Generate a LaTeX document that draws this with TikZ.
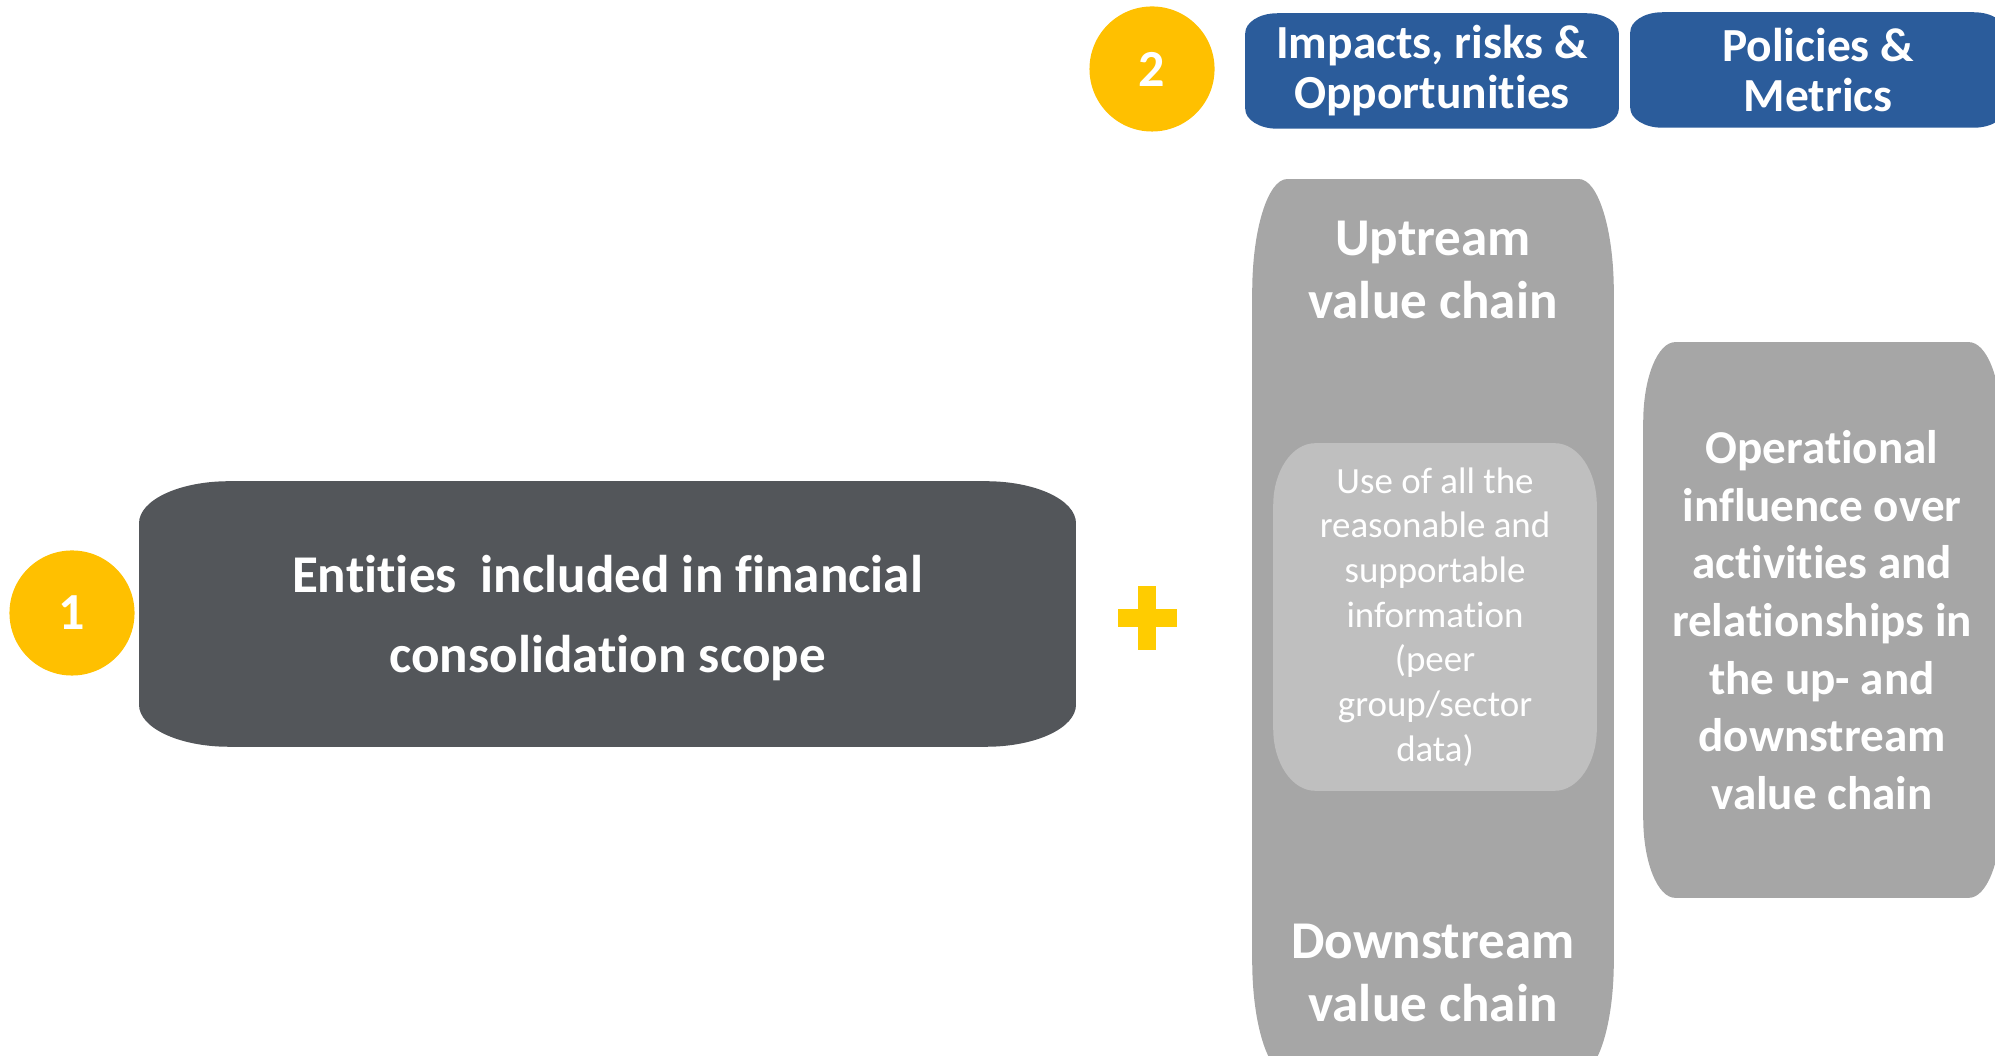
\documentclass[tikz,border=0pt]{standalone}
\usepackage{fontspec}
\setmainfont{Carlito}[Ligatures=NoCommon]
\usetikzlibrary{positioning}
\usetikzlibrary{backgrounds}

\definecolor{dotyellow}{HTML}{FFC000}
\definecolor{plusyellow}{HTML}{FFCC00}
\definecolor{scopegray}{HTML}{53565A}
\definecolor{headblue}{HTML}{2B5C9B}
\definecolor{chaingray}{HTML}{A6A6A6}
\definecolor{infogray}{HTML}{BFBFBF}

% box with elliptical corners, filled behind a named node
\newcommand{\pillfill}[4]{%
	\fill[#2] ([xshift=#3]#1.south west) -- ([xshift=-#3]#1.south east)
		arc[start angle=-90, end angle=0, x radius=#3, y radius=#4]
		-- ([yshift=-#4]#1.north east)
		arc[start angle=0, end angle=90, x radius=#3, y radius=#4]
		-- ([xshift=#3]#1.north west)
		arc[start angle=90, end angle=180, x radius=#3, y radius=#4]
		-- ([yshift=#4]#1.south west)
		arc[start angle=180, end angle=270, x radius=#3, y radius=#4]
		-- cycle;}

\tikzset{
	numdot/.style={circle, fill=dotyellow, text=white, minimum size=1.25cm, inner sep=0pt,
		font=\bfseries\fontsize{14.8}{14.8}\selectfont},
	bigtext/.style={text=white, align=center, inner sep=0pt,
		font=\bfseries\fontsize{15.1}{18.1}\selectfont},
	headtext/.style={text=white, align=center, inner sep=0pt,
		font=\bfseries\fontsize{13.5}{14.2}\selectfont},
	optext/.style={text=white, align=center, inner sep=0pt,
		font=\bfseries\fontsize{13.4}{16.4}\selectfont},
	infotext/.style={text=white, align=center, inner sep=0pt,
		font=\fontsize{10.5}{12.7}\selectfont}
}

\begin{document}
\begin{tikzpicture}[x=0.01cm, y=0.01cm]
	\useasboundingbox (0,0) rectangle (1995,1055);
	\clip (0,0) rectangle (1995,1055);

	% step 1
	\node[numdot] (one) at (72, 442) {1};
	\node[bigtext, minimum width=9.35cm, minimum height=2.64cm,
		font=\bfseries\fontsize{15.1}{22.8}\selectfont] (entities) at (607.5, 437)
		{Entities\ \ included in financial\\consolidation scope};

	\coordinate (plus) at (1147, 437);
	\fill[plusyellow] ([shift={(-29.5,-9)}]plus) rectangle ([shift={(29.5,9)}]plus);
	\fill[plusyellow] ([shift={(-9,-32)}]plus) rectangle ([shift={(9,32)}]plus);

	% step 2
	\node[numdot] (two) at (1152, 986) {2};
	\node[headtext, minimum width=3.72cm, minimum height=1.14cm] (iro) at (1432, 984)
		{Impacts, risks \&\\Opportunities};
	\node[headtext, minimum width=3.74cm, minimum height=1.14cm] (polmet) at (1818, 985)
		{Policies \&\\Metrics};

	\node[minimum width=3.6cm, minimum height=8.93cm, inner sep=0pt] (chain) at (1433, 428.5) {};
	\node[bigtext] (upstream) at (1433, 785) {Uptream\\value chain};
	\node[bigtext] (downstream) at (1433, 82) {Downstream\\value chain};
	\node[infotext, minimum width=3.22cm, minimum height=3.46cm] (info) at (1435, 438)
		{Use of all the\\reasonable and\\supportable\\information\\(peer\\group/sector\\data)};

	\node[optext, minimum width=3.56cm, minimum height=5.54cm] (opinf) at (1822, 435)
		{Operational\\influence over\\activities and\\relationships in\\the up- and\\downstream\\value chain};

	\begin{scope}[on background layer]
		\fill[scopegray] ([xshift=0.9cm, yshift=0.04cm]entities.south west) -- ([xshift=-0.9cm, yshift=0.04cm]entities.south east)
			arc[start angle=-90, end angle=0, x radius=0.9cm, y radius=0.42cm]
			-- ([yshift=-0.42cm+0.04cm]entities.north east)
			arc[start angle=0, end angle=90, x radius=0.9cm, y radius=0.42cm]
			-- ([xshift=0.9cm, yshift=0.04cm]entities.north west)
			arc[start angle=90, end angle=180, x radius=0.9cm, y radius=0.42cm]
			-- ([yshift=0.46cm]entities.south west)
			arc[start angle=180, end angle=270, x radius=0.9cm, y radius=0.42cm]
			-- cycle;
		\pillfill{iro}{headblue}{0.32cm}{0.2cm}
		\pillfill{polmet}{headblue}{0.32cm}{0.2cm}
		\pillfill{chain}{chaingray}{0.35cm}{1.13cm}
		\pillfill{info}{infogray}{0.42cm}{0.62cm}
		\pillfill{opinf}{chaingray}{0.32cm}{0.8cm}
	\end{scope}
\end{tikzpicture}
\end{document}
